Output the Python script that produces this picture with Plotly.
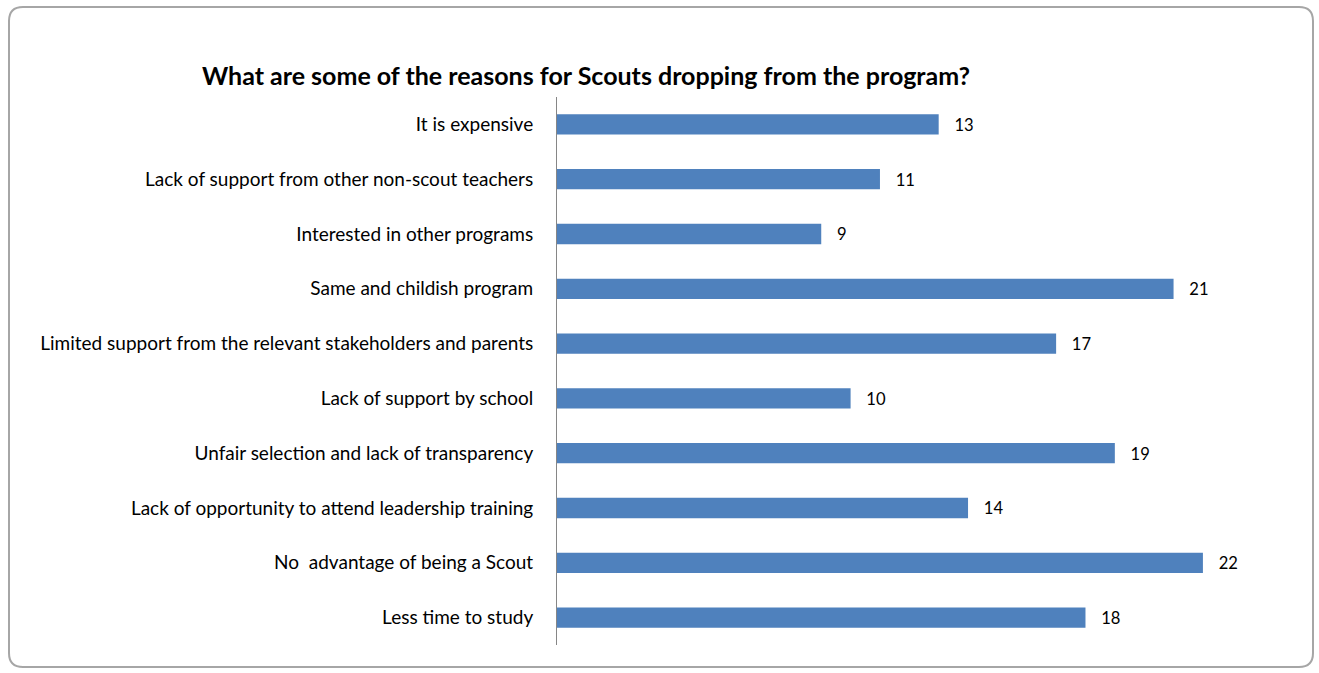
import plotly.graph_objects as go

categories = [
    "It is expensive",
    "Lack of support from other non-scout teachers",
    "Interested in other programs",
    "Same and childish program",
    "Limited support from the relevant stakeholders and parents",
    "Lack of support by school",
    "Unfair selection and lack of transparency",
    "Lack of opportunity to attend leadership training",
    "No  advantage of being a Scout",
    "Less time to study",
]
values = [13, 11, 9, 21, 17, 10, 19, 14, 22, 18]
title_text = "What are some of the reasons for Scouts dropping from the program?"

W, H = 1319, 673
L, R, T, B = 557, 1291, 97, 645

fig = go.Figure(go.Bar(
    y=categories,
    x=values,
    orientation="h",
    marker=dict(color="#4F81BD", line=dict(color="#4F81BD", width=0)),
    text=values,
    texttemplate="   %{x}",
    textposition="outside",
    textfont=dict(family="Lato", size=18, color="#000000"),
    cliponaxis=False,
    width=0.37,
))

def px(x):
    return (x - L) / (R - L)

def py(y):
    return (B - y) / (B - T)

# rounded frame
x0, x1, y0, y1, r = 9, 1313, 7, 667, 14
path = (f"M {px(x0+r)},{py(y0)} L {px(x1-r)},{py(y0)} "
        f"Q {px(x1)},{py(y0)} {px(x1)},{py(y0+r)} "
        f"L {px(x1)},{py(y1-r)} Q {px(x1)},{py(y1)} {px(x1-r)},{py(y1)} "
        f"L {px(x0+r)},{py(y1)} Q {px(x0)},{py(y1)} {px(x0)},{py(y1-r)} "
        f"L {px(x0)},{py(y0+r)} Q {px(x0)},{py(y0)} {px(x0+r)},{py(y0)} Z")

fig.update_layout(
    width=W, height=H,
    margin=dict(l=L, r=W - R, t=T, b=H - B, pad=0),
    paper_bgcolor="white",
    plot_bgcolor="white",
    showlegend=False,
    bargap=0.63,
    title=dict(text=f"<b>{title_text}</b>", x=586 / W, xanchor="center",
               y=1 - 76 / H, yanchor="middle",
               font=dict(family="Lato", size=25, color="#000000")),
    xaxis=dict(range=[0, 25], visible=False, fixedrange=True),
    yaxis=dict(autorange="reversed", showline=True, linecolor="#868686", linewidth=1,
               ticks="", showgrid=False, zeroline=False,
               tickfont=dict(family="Lato", size=19, color="#000000"),
               ticklabelstandoff=19),
    shapes=[dict(type="path", path=path, xref="paper", yref="paper",
                 line=dict(color="#A6A6A6", width=2), layer="below")],
)

fig.write_html("out.html")
